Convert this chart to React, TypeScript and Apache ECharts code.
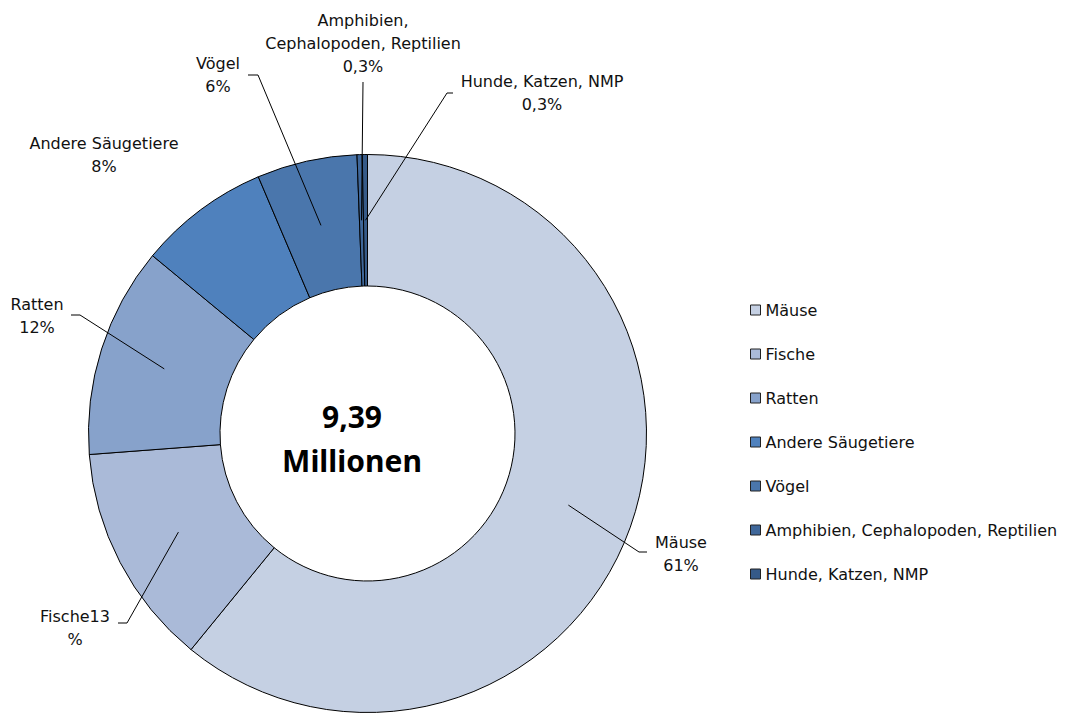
import React, { useEffect, useRef } from "react";
import * as echarts from "echarts";

const categories = [
  "Mäuse",
  "Fische",
  "Ratten",
  "Andere Säugetiere",
  "Vögel",
  "Amphibien, Cephalopoden, Reptilien",
  "Hunde, Katzen, NMP",
];
const shares = [60.9, 12.9, 12.2, 7.6, 5.8, 0.3, 0.3];
// label templates: {p} = percent with sign, {v} = number only
const labelTemplates = [
  "Mäuse\n{p}",
  "Fische{v}\n%",
  "Ratten\n{p}",
  "Andere Säugetiere\n{p}",
  "Vögel\n{p}",
  "Amphibien,\nCephalopoden, Reptilien\n{p}",
  "Hunde, Katzen, NMP\n{p}",
];
const colors = ["#C5D0E3", "#AABAD8", "#87A2CB", "#4F81BD", "#4A76AC", "#3F679A", "#365A88"];
const centerLines = ["9,39", "Millionen"];

// label layout (positions of label centre and leader-line elbow/end)
const labelCenters: [number, number][] = [
  [681, 554],
  [75, 628],
  [37, 316],
  [104, 155],
  [218, 75],
  [363, 43],
  [542, 93],
];
const elbows: ([number, number] | null)[] = [
  [639, 552],
  [127, 623],
  [80, 315],
  null,
  [258, 75],
  [363, 82],
  [447, 93],
];
const lineEnds: ([number, number] | null)[] = [
  [647, 552],
  [118, 623],
  [71, 315],
  null,
  [248, 75],
  [363, 82],
  [453, 93],
];

const CX = 367.5;
const CY = 433.5;
const R0 = 147.5;
const R1 = 279;

function fmtPct(p: number): string {
  if (p >= 1) return String(Math.round(p));
  return p.toFixed(1).replace(".", ",");
}

export default function App() {
  const ref = useRef<HTMLDivElement>(null);
  useEffect(() => {
    if (!ref.current) return;
    const chart = echarts.init(ref.current, null, { renderer: "svg" });
    const total = shares.reduce((a, b) => a + b, 0);
    const anchors = shares.map((s, i) => {
      const before = shares.slice(0, i).reduce((a, b) => a + b, 0);
      const a = ((before + s / 2) / total) * Math.PI * 2;
      const rm = (R0 + R1) / 2;
      return [CX + rm * Math.sin(a), CY - rm * Math.cos(a)];
    });
    const leaderLines = shares
      .map((_, i) =>
        elbows[i] && lineEnds[i]
          ? {
              type: "polyline",
              z: 100,
              silent: true,
              shape: { points: [anchors[i], elbows[i], lineEnds[i]] },
              style: { stroke: "#000", lineWidth: 1, fill: null },
            }
          : null
      )
      .filter(Boolean);
    const font = '"DejaVu Sans", "Noto Sans", sans-serif';
    const boldFont = '"Noto Sans", "Open Sans", sans-serif';
    chart.setOption({
      animation: false,
      backgroundColor: "#fff",
      color: colors,
      legend: {
        orient: "vertical",
        left: 750,
        top: 300,
        padding: 0,
        itemWidth: 10,
        itemHeight: 10,
        itemGap: 24,
        icon: "rect",
        itemStyle: { borderColor: "#222", borderWidth: 1 },
        textStyle: { fontFamily: font, fontSize: 16, color: "#111", lineHeight: 20 },
        data: categories,
      },
      graphic: [
        {
          type: "text",
          x: 352,
          y: 438.5,
          style: {
            text: centerLines.join("\n"),
            textAlign: "center",
            textVerticalAlign: "middle",
            fontFamily: boldFont,
            fontWeight: "bold",
            fontSize: 30,
            lineHeight: 44,
            fill: "#000",
          },
        },
        ...leaderLines,
      ],
      series: [
        {
          type: "pie",
          center: [CX, CY],
          radius: [R0, R1],
          startAngle: 90,
          clockwise: true,
          avoidLabelOverlap: false,
          itemStyle: { borderColor: "#000", borderWidth: 1 },
          emphasis: { disabled: true },
          label: {
            show: true,
            position: "outside",
            fontFamily: font,
            fontSize: 16,
            lineHeight: 23,
            color: "#111",
            align: "center",
            formatter: (p: any) => {
              const pct = (p.value / total) * 100;
              const v = fmtPct(pct);
              return labelTemplates[p.dataIndex].replace("{p}", v + "%").replace("{v}", v);
            },
          },
          labelLine: { show: false },
          labelLayout: (params: any) => {
            const c = labelCenters[params.dataIndex];
            return { x: c[0], y: c[1], align: "center", verticalAlign: "middle" };
          },
          data: categories.map((name, i) => ({ name, value: shares[i] })),
        },
      ],
    });
    return () => chart.dispose();
  }, []);
  return (
    <div
      ref={ref}
      style={{ position: "fixed", left: 0, top: 0, width: 1070, height: 713, background: "#fff" }}
    />
  );
}
